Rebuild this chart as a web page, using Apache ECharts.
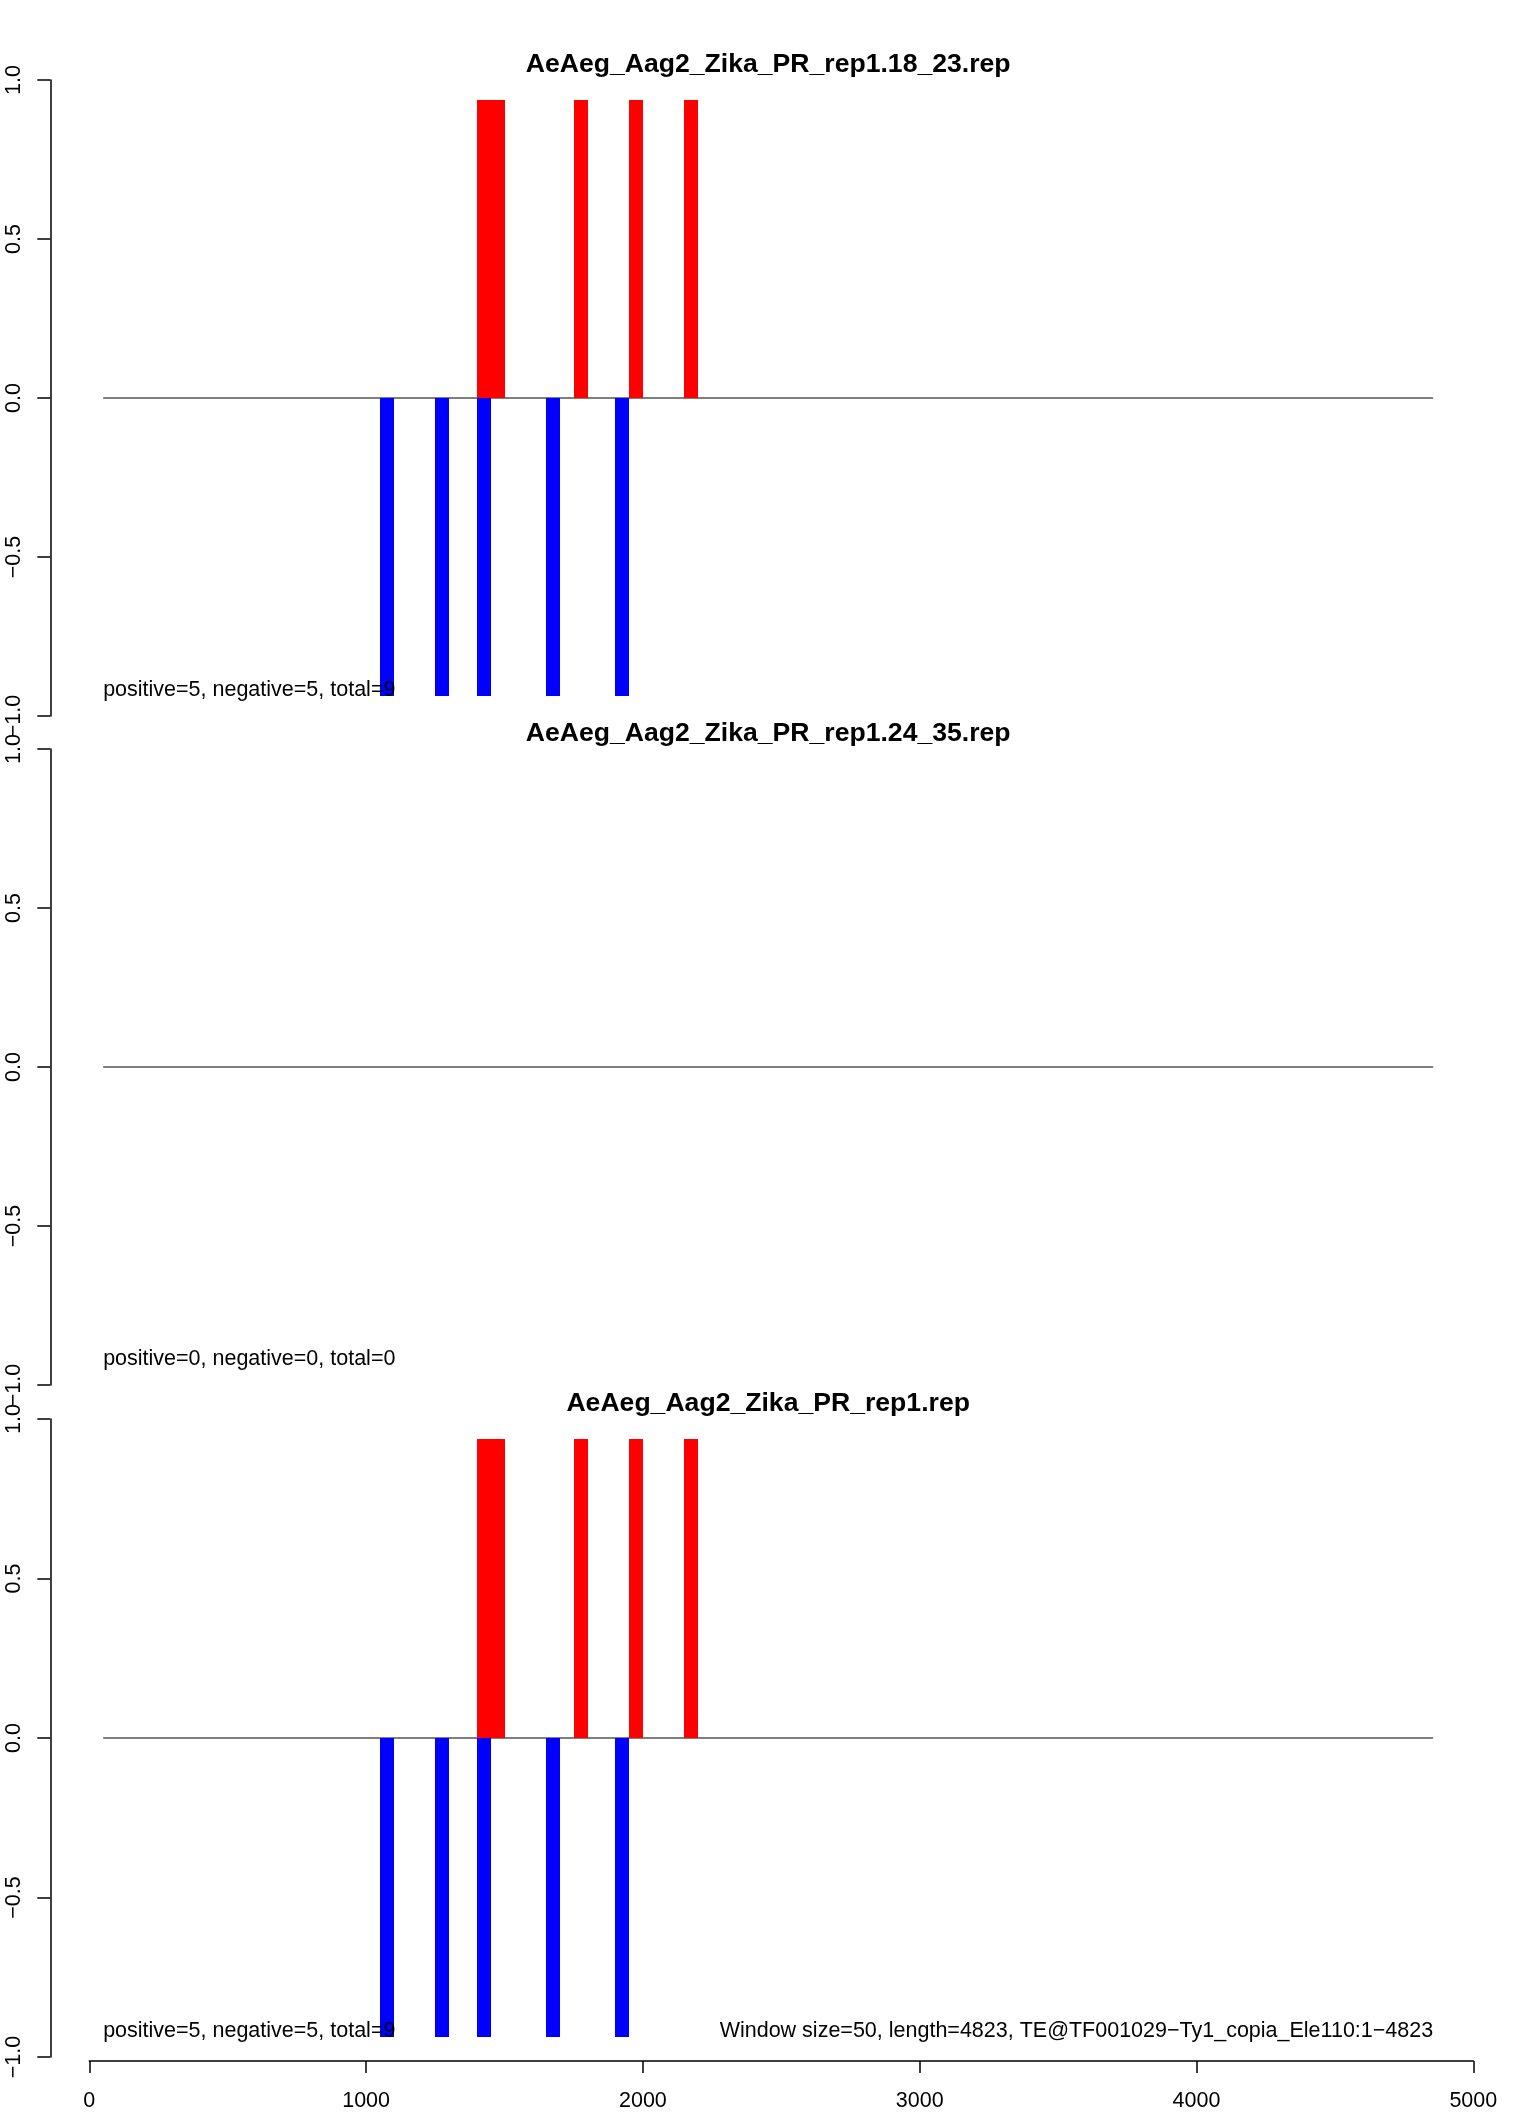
<!DOCTYPE html>
<html>
<head>
<meta charset="utf-8">
<script src="https://cdn.jsdelivr.net/npm/echarts@6/dist/echarts.min.js"></script>
<style>
html,body{margin:0;padding:0;background:#fff;}
#chart{width:1533px;height:2112px;}
</style>
</head>
<body>
<div id="chart"></div>
<script>
// ---- data ----
const panelTitles = [
  'AeAeg_Aag2_Zika_PR_rep1.18_23.rep',
  'AeAeg_Aag2_Zika_PR_rep1.24_35.rep',
  'AeAeg_Aag2_Zika_PR_rep1.rep'
];
const panelStats = [
  'positive=5, negative=5, total=9',
  'positive=0, negative=0, total=0',
  'positive=5, negative=5, total=9'
];
const footnote = 'Window size=50, length=4823, TE@TF001029\u2212Ty1_copia_Ele110:1\u22124823';
const windowSize = 50;
const xTicks = [0, 1000, 2000, 3000, 4000, 5000];
const yTicks = [-1, -0.5, 0, 0.5, 1];
const plotXRange = [50, 4855];

// window starts and values per panel
const posStarts1 = [1400, 1450, 1750, 1950, 2150];
const posValues1 = [0.937, 0.937, 0.937, 0.937, 0.937];
const negStarts1 = [1050, 1250, 1400, 1650, 1900];
const negValues1 = [-0.937, -0.937, -0.937, -0.937, -0.937];

const posStarts2 = [];
const posValues2 = [];
const negStarts2 = [];
const negValues2 = [];

const posStarts3 = [1400, 1450, 1750, 1950, 2150];
const posValues3 = [0.937, 0.937, 0.937, 0.937, 0.937];
const negStarts3 = [1050, 1250, 1400, 1650, 1900];
const negValues3 = [-0.937, -0.937, -0.937, -0.937, -0.937];

const panels = [
  {pos: [posStarts1, posValues1], neg: [negStarts1, negValues1]},
  {pos: [posStarts2, posValues2], neg: [negStarts2, negValues2]},
  {pos: [posStarts3, posValues3], neg: [negStarts3, negValues3]}
];

// ---- layout ----
const FONT = '"Liberation Sans", Arial, Helvetica, sans-serif';
const gridTops = [80, 749, 1419];
const gridHeights = [636, 636, 638];
const gridLeft = 89.3, gridRight = 59.7;

function fmtY(v){
  const s = Math.abs(v).toFixed(1);
  return v < 0 ? '\u2212' + s : s;
}

const chart = echarts.init(document.getElementById('chart'), null, {renderer: 'canvas'});

const grids = [], xAxes = [], yAxes = [], series = [];
panels.forEach((p, i) => {
  grids.push({left: gridLeft, right: gridRight, top: gridTops[i], height: gridHeights[i], containLabel: false});
  const isLast = i === panels.length - 1;
  xAxes.push({
    type: 'value', gridIndex: i, min: xTicks[0], max: xTicks[xTicks.length - 1], interval: 1000,
    show: isLast, offset: 4,
    axisLine: {show: true, onZero: false, lineStyle: {color: '#000', width: 1.5}},
    axisTick: {show: true, inside: false, length: 12, lineStyle: {color: '#000', width: 1.5}},
    axisLabel: {show: true, color: '#000', fontSize: 21.5, fontFamily: FONT, margin: 29,
      formatter: function(v){ return String(v); }},
    splitLine: {show: false}
  });
  yAxes.push({
    type: 'value', gridIndex: i, min: yTicks[0], max: yTicks[yTicks.length - 1], interval: 0.5,
    position: 'left', offset: 39,
    axisLine: {show: true, onZero: false, lineStyle: {color: '#000', width: 1.5}},
    axisTick: {show: true, inside: false, length: 13, lineStyle: {color: '#000', width: 1.5}},
    axisLabel: {show: true, color: '#000', fontSize: 21.5, fontFamily: FONT, rotate: 90, margin: 25,
      formatter: fmtY},
    splitLine: {show: false}
  });
  // zero line
  series.push({
    type: 'line', xAxisIndex: i, yAxisIndex: i, symbol: 'none', silent: true, z: 1,
    data: [[plotXRange[0], 0], [plotXRange[1], 0]],
    lineStyle: {color: '#555', width: 1.3}
  });
  const mk = (arr, color) => ({
    type: 'custom', xAxisIndex: i, yAxisIndex: i, z: 2, silent: true,
    data: arr[0].map((s, k) => [s, arr[1][k]]),
    renderItem: function(params, api){
      const s = api.value(0), v = api.value(1);
      const a = api.coord([s, 0]);
      const b = api.coord([s + windowSize, v]);
      const x0 = Math.round(a[0]), x1 = Math.round(b[0]);
      const y0 = Math.round(Math.min(a[1], b[1])), y1 = Math.round(Math.max(a[1], b[1]));
      return {type: 'rect', shape: {x: x0, y: y0, width: x1 - x0, height: y1 - y0},
        style: {fill: color}};
    }
  });
  series.push(mk(p.neg, '#0000FF'));
  series.push(mk(p.pos, '#FF0000'));
});

chart.setOption({
  animation: false,
  backgroundColor: '#fff',
  grid: grids, xAxis: xAxes, yAxis: yAxes, series: series
});

// annotations positioned via the axes
const graphics = [];
panels.forEach((p, i) => {
  const topPx = chart.convertToPixel({gridIndex: i}, [plotXRange[0], yTicks[yTicks.length - 1]]);
  const midPx = chart.convertToPixel({gridIndex: i}, [(plotXRange[0] + plotXRange[1]) / 2, 0]);
  graphics.push({
    type: 'text', z: 100, x: midPx[0], y: topPx[1] - 15,
    style: {text: panelTitles[i], font: 'bold 26.6px ' + FONT, fill: '#000', textAlign: 'center', textVerticalAlign: 'middle'}
  });
  const stPx = chart.convertToPixel({gridIndex: i}, [plotXRange[0], -0.918]);
  graphics.push({
    type: 'text', z: 100, x: stPx[0], y: stPx[1],
    style: {text: panelStats[i], font: '21.5px ' + FONT, fill: '#000', textAlign: 'left', textVerticalAlign: 'middle'}
  });
  if (i === panels.length - 1) {
    const fPx = chart.convertToPixel({gridIndex: i}, [plotXRange[1], -0.918]);
    graphics.push({
      type: 'text', z: 100, x: fPx[0], y: fPx[1],
      style: {text: footnote, font: '21.5px ' + FONT, fill: '#000', textAlign: 'right', textVerticalAlign: 'middle'}
    });
  }
});
chart.setOption({graphic: graphics});
</script>
</body>
</html>
